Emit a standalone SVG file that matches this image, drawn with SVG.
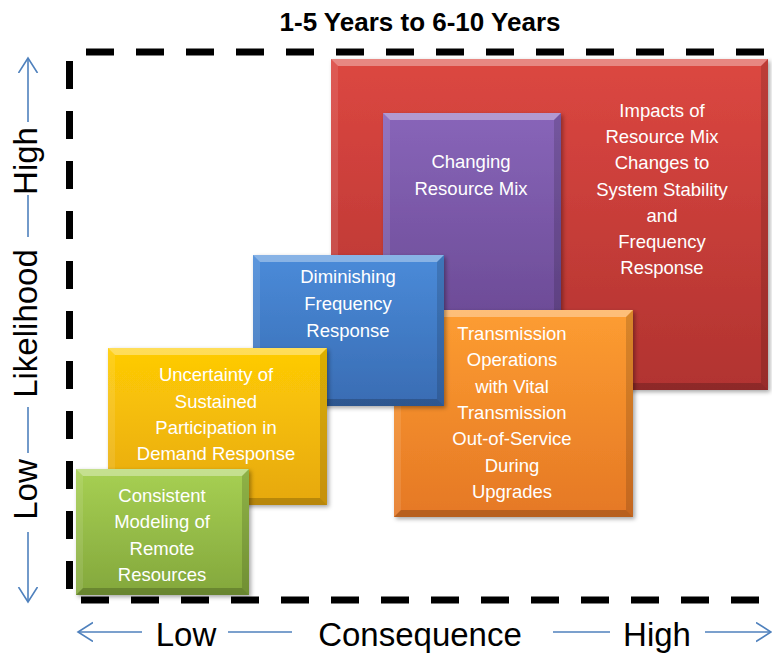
<svg xmlns="http://www.w3.org/2000/svg" width="772" height="654" viewBox="0 0 772 654">
<style>
.t{font-family:"Liberation Sans",Arial,sans-serif;font-size:18.5px;fill:#ffffff;text-anchor:middle}
.ax{font-family:"Liberation Sans",Arial,sans-serif;font-size:33px;fill:#000000;text-anchor:middle}
.title{font-family:"Liberation Sans",Arial,sans-serif;font-size:26px;font-weight:bold;fill:#000000;text-anchor:middle}
.dash{stroke:#000000;stroke-width:7;stroke-dasharray:28 22;fill:none}
.axl{stroke:#4f81bd;stroke-width:1.6;fill:none}
.bt{fill:#ffffff;fill-opacity:0.35}
.bl{fill:#ffffff;fill-opacity:0.1}
.br{fill:#000000;fill-opacity:0.14}
.bb{fill:#000000;fill-opacity:0.2}
</style>
<defs>
<marker id="arr" markerUnits="userSpaceOnUse" markerWidth="20" markerHeight="22" refX="15" refY="10" orient="auto">
<path d="M0,0.5 L15,10 L0,19.5" fill="none" stroke="#4f81bd" stroke-width="1.6"/>
</marker>
<filter id="sh" x="-10%" y="-10%" width="125%" height="125%">
<feDropShadow dx="2" dy="2" stdDeviation="2" flood-color="#000" flood-opacity="0.35"/>
</filter>
<linearGradient id="gRed" x1="0" y1="0" x2="0" y2="1"><stop offset="0" stop-color="#dc4741"/><stop offset="1" stop-color="#b13330"/></linearGradient>
<linearGradient id="gPur" x1="0" y1="0" x2="0" y2="1"><stop offset="0" stop-color="#8865b9"/><stop offset="1" stop-color="#6c4b96"/></linearGradient>
<linearGradient id="gBlu" x1="0" y1="0" x2="0" y2="1"><stop offset="0" stop-color="#4a8bd9"/><stop offset="1" stop-color="#396cb3"/></linearGradient>
<linearGradient id="gOra" x1="0" y1="0" x2="0" y2="1"><stop offset="0" stop-color="#fd9d31"/><stop offset="1" stop-color="#e57825"/></linearGradient>
<linearGradient id="gYel" x1="0" y1="0" x2="0" y2="1"><stop offset="0" stop-color="#ffcc05"/><stop offset="1" stop-color="#e6a80c"/></linearGradient>
<linearGradient id="gGre" x1="0" y1="0" x2="0" y2="1"><stop offset="0" stop-color="#a7d053"/><stop offset="1" stop-color="#83a73c"/></linearGradient>
</defs>
<rect width="772" height="654" fill="#ffffff"/>
<text class="title" x="420" y="31">1-5 Years to 6-10 Years</text>
<g id="frame">
<line class="dash" x1="86" y1="52" x2="772" y2="52"/>
<line class="dash" x1="69.5" y1="61" x2="69.5" y2="600"/>
<line class="dash" x1="81" y1="600" x2="772" y2="600"/>
</g>
<g id="axes">
<line class="axl" x1="28" y1="122" x2="28" y2="58" marker-end="url(#arr)"/>
<line class="axl" x1="28" y1="195" x2="28" y2="237"/>
<line class="axl" x1="28" y1="407" x2="28" y2="453"/>
<line class="axl" x1="28" y1="532" x2="28" y2="602" marker-end="url(#arr)"/>
<text class="ax" transform="translate(37,161) rotate(-90)">High</text>
<text class="ax" transform="translate(37,323.5) rotate(-90)">Likelihood</text>
<text class="ax" transform="translate(37,489.5) rotate(-90)">Low</text>
<line class="axl" x1="142" y1="632" x2="78" y2="632" marker-end="url(#arr)"/>
<line class="axl" x1="228" y1="632" x2="292" y2="632"/>
<line class="axl" x1="553" y1="632" x2="610" y2="632"/>
<line class="axl" x1="705" y1="632" x2="771" y2="632" marker-end="url(#arr)"/>
<text class="ax" x="186" y="646">Low</text>
<text class="ax" x="420" y="646">Consequence</text>
<text class="ax" x="657" y="646">High</text>
</g>
<g id="red">
<rect x="331" y="59" width="437" height="331" fill="url(#gRed)" filter="url(#sh)"/>
<polygon class="bt" points="331,59 768,59 761,66 338,66"/>
<polygon class="bl" points="331,59 338,66 338,383 331,390"/>
<polygon class="br" points="768,59 768,390 761,383 761,66"/>
<polygon class="bb" points="331,390 338,383 761,383 768,390"/>
<text class="t" x="662" y="117">Impacts of</text>
<text class="t" x="662" y="143">Resource Mix</text>
<text class="t" x="662" y="169">Changes to</text>
<text class="t" x="662" y="196">System Stability</text>
<text class="t" x="662" y="222">and</text>
<text class="t" x="662" y="248">Frequency</text>
<text class="t" x="662" y="274">Response</text>
</g>
<g id="purple">
<rect x="383" y="113" width="178" height="207" fill="url(#gPur)" filter="url(#sh)"/>
<polygon class="bt" points="383,113 561,113 554,120 390,120"/>
<polygon class="bl" points="383,113 390,120 390,313 383,320"/>
<polygon class="br" points="561,113 561,320 554,313 554,120"/>
<text class="t" x="471" y="168">Changing</text>
<text class="t" x="471" y="195">Resource Mix</text>
</g>
<g id="orange">
<rect x="394" y="310" width="239" height="207" fill="url(#gOra)" filter="url(#sh)"/>
<polygon class="bt" points="394,310 633,310 626,317 401,317"/>
<polygon class="bl" points="394,310 401,317 401,510 394,517"/>
<polygon class="br" points="633,310 633,517 626,510 626,317"/>
<polygon class="bb" points="394,517 401,510 626,510 633,517"/>
<text class="t" x="512" y="340">Transmission</text>
<text class="t" x="512" y="366">Operations</text>
<text class="t" x="512" y="393">with Vital</text>
<text class="t" x="512" y="419">Transmission</text>
<text class="t" x="512" y="445">Out-of-Service</text>
<text class="t" x="512" y="472">During</text>
<text class="t" x="512" y="498">Upgrades</text>
</g>
<g id="blue">
<rect x="253" y="255" width="191" height="151" fill="url(#gBlu)" filter="url(#sh)"/>
<polygon class="bt" points="253,255 444,255 437,262 260,262"/>
<polygon class="bl" points="253,255 260,262 260,399 253,406"/>
<polygon class="br" points="444,255 444,406 437,399 437,262"/>
<polygon class="bb" points="253,406 260,399 437,399 444,406"/>
<text class="t" x="348" y="283">Diminishing</text>
<text class="t" x="348" y="310">Frequency</text>
<text class="t" x="348" y="337">Response</text>
</g>
<g id="yellow">
<rect x="108" y="348" width="219" height="157" fill="url(#gYel)" filter="url(#sh)"/>
<polygon class="bt" points="108,348 327,348 320,355 115,355"/>
<polygon class="bl" points="108,348 115,355 115,498 108,505"/>
<polygon class="br" points="327,348 327,505 320,498 320,355"/>
<polygon class="bb" points="108,505 115,498 320,498 327,505"/>
<text class="t" x="216" y="381">Uncertainty of</text>
<text class="t" x="216" y="408">Sustained</text>
<text class="t" x="216" y="434">Participation in</text>
<text class="t" x="216" y="460">Demand Response</text>
</g>
<g id="green">
<rect x="76" y="469" width="173" height="126" fill="url(#gGre)" filter="url(#sh)"/>
<polygon class="bt" points="76,469 249,469 242,476 83,476"/>
<polygon class="bl" points="76,469 83,476 83,588 76,595"/>
<polygon class="br" points="249,469 249,595 242,588 242,476"/>
<polygon class="bb" points="76,595 83,588 242,588 249,595"/>
<text class="t" x="162" y="502">Consistent</text>
<text class="t" x="162" y="528">Modeling of</text>
<text class="t" x="162" y="555">Remote</text>
<text class="t" x="162" y="581">Resources</text>
</g>
</svg>
